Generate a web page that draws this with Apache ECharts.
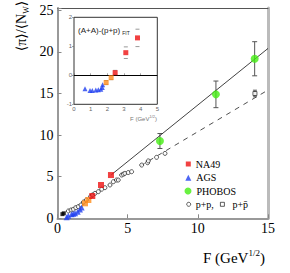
<!DOCTYPE html>
<html><head><meta charset="utf-8">
<script src="https://cdn.jsdelivr.net/npm/echarts@6/dist/echarts.min.js"></script>
<style>html,body{margin:0;padding:0;background:#fff}#c{width:290px;height:273px}</style>
</head><body><div id="c"></div>
<script>
// ---- main panel data ----
const na49X = [2.48, 3.10, 3.81];
const na49Y = [2.68, 4.00, 5.20];
const na49LowX = [1.96, 2.20];
const na49LowY = [1.80, 2.20];
const agsX = [0.65, 0.77, 1.00, 1.12, 1.25, 1.44, 1.60, 1.72];
const agsY = [0.12, 0.30, 0.50, 0.55, 0.62, 0.80, 1.05, 1.30];
const phobosX = [7.30, 11.29, 14.05];
const phobosY = [9.29, 14.90, 19.18];
const phobosErr = [0.90, 1.60, 2.05];
const ppX = [0.77, 0.96, 1.13, 1.30, 1.48, 1.67, 1.85, 2.05, 2.35, 2.50, 2.67, 2.91, 3.15, 3.38, 3.74, 3.98, 4.20, 4.33, 4.57, 4.69, 4.80, 5.04, 5.28, 6.00, 6.42, 6.47, 7.06, 7.66];
const ppY = [0.88, 1.00, 1.08, 1.28, 1.40, 1.60, 1.95, 2.20, 2.60, 2.80, 3.00, 3.20, 3.50, 3.68, 4.00, 4.40, 4.60, 4.60, 5.20, 5.30, 5.40, 5.50, 5.60, 6.40, 6.68, 6.90, 7.33, 7.80];
const ppbarX = [14.07];
const ppbarY = [15.00];
const ppbarErr = [0.40];
const lowX = [0.35, 0.45];
const lowY = [0.50, 0.60];
const fitAAX = [3.84, 15.0];
const fitAAY = [5.24, 20.42];
const fitPPX = [5.90, 15.0];
const fitPPY = [6.30, 15.42];
const xTicks = [0, 5, 10, 15];
const yTicks = [0, 5, 10, 15, 20, 25];
// ---- inset data ----
const insAgsX = [0.66, 0.96, 1.10, 1.31, 1.46, 1.61, 1.70, 1.72];
const insAgsY = [-0.46, -0.52, -0.52, -0.51, -0.50, -0.48, -0.42, -0.33];
const insLowX = [1.93, 2.23];
const insLowY = [-0.25, -0.08];
const insLowErr = [0.07, 0.07];
const insNa49X = [2.47, 3.11, 3.81];
const insNa49Y = [0.09, 0.78, 1.29];
const insNa49Err = [0.08, 0.20, 0.30];
const insXTicks = [0, 1, 2, 3, 4, 5];
const insYTicks = [-1, 0, 1, 2];

const zip = (a, b) => a.map((v, i) => [v, b[i]]);
const SERIF = '"Liberation Serif","DejaVu Serif",serif';
const SANS = '"Liberation Sans","DejaVu Sans",sans-serif';

function errSeries(name, xs, ys, es, xi, yi, color, cap, withLine, z) {
  return {
    name, type: 'custom', xAxisIndex: xi, yAxisIndex: yi, z: z, silent: true,
    data: xs.map((x, i) => [x, ys[i] - es[i], ys[i] + es[i]]),
    renderItem: (params, api) => {
      const lo = api.coord([api.value(0), api.value(1)]);
      const hi = api.coord([api.value(0), api.value(2)]);
      const st = { stroke: color, lineWidth: 1 };
      const ch = [
        { type: 'line', shape: { x1: lo[0] - cap, y1: lo[1], x2: lo[0] + cap, y2: lo[1] }, style: st },
        { type: 'line', shape: { x1: hi[0] - cap, y1: hi[1], x2: hi[0] + cap, y2: hi[1] }, style: st }
      ];
      if (withLine) ch.push({ type: 'line', shape: { x1: lo[0], y1: lo[1], x2: hi[0], y2: hi[1] }, style: st });
      return { type: 'group', children: ch };
    }
  };
}

const chart = echarts.init(document.getElementById('c'), null, { renderer: 'svg' });
const yMax = 25.28;
const legText = { fontFamily: SERIF, fontSize: 10, color: '#000', lineHeight: 10 };
const openStyle = { color: '#fff', borderColor: '#000', borderWidth: 0.8 };
chart.setOption({
  animation: false,
  backgroundColor: '#fff',
  grid: [
    { left: 57.5, right: 22, top: 8, bottom: 54.7 },
    { left: 74, right: 132.7, top: 17.3, bottom: 168.7, show: true, backgroundColor: '#fff', borderColor: '#333', borderWidth: 1, z: 3 }
  ],
  xAxis: [
    { gridIndex: 0, type: 'value', min: 0, max: 15, interval: 5,
      axisLine: { show: true, onZero: false, lineStyle: { color: '#999', width: 2 } },
      axisTick: { show: true, inside: true, length: 4, lineStyle: { color: '#888' } },
      axisLabel: { fontFamily: SERIF, fontSize: 14, color: '#000', margin: 3,
        formatter: v => xTicks.includes(v) ? String(v) : '' },
      splitLine: { show: false } },
    { gridIndex: 0, type: 'value', position: 'top', min: 0, max: 15,
      axisLine: { show: true, onZero: false, lineStyle: { color: '#555', width: 1 } },
      axisTick: { show: false }, axisLabel: { show: false }, splitLine: { show: false } },
    { gridIndex: 1, type: 'value', min: 0, max: 5, interval: 1,
      axisLine: { show: false }, 
      axisTick: { show: true, inside: true, length: 2, lineStyle: { color: '#666', width: 0.6 } },
      axisLabel: { fontFamily: SANS, fontSize: 6, color: '#666', margin: 2,
        formatter: v => insXTicks.includes(v) ? String(v) : '' },
      splitLine: { show: false }, z: 4 }
  ],
  yAxis: [
    { gridIndex: 0, type: 'value', min: 0, max: yMax, interval: 5,
      axisLine: { show: true, onZero: false, lineStyle: { color: '#999', width: 2 } },
      axisTick: { show: true, inside: true, length: 4, lineStyle: { color: '#888' } },
      axisLabel: { fontFamily: SERIF, fontSize: 14, color: '#000', margin: 4,
        formatter: v => yTicks.includes(v) ? String(v) : '' },
      splitLine: { show: false } },
    { gridIndex: 0, type: 'value', position: 'right', min: 0, max: yMax,
      axisLine: { show: true, onZero: false, lineStyle: { color: '#bbb', width: 3 } },
      axisTick: { show: false }, axisLabel: { show: false }, splitLine: { show: false } },
    { gridIndex: 1, type: 'value', min: -1, max: 2, interval: 1,
      axisLine: { show: false },
      axisTick: { show: true, inside: false, length: 2, lineStyle: { color: '#666', width: 0.6 } },
      axisLabel: { fontFamily: SANS, fontSize: 6, color: '#666', margin: 2,
        formatter: v => insYTicks.includes(v) ? String(v) : '' },
      splitLine: { show: false }, z: 4 }
  ],
  legend: [
    { left: 185.8, top: 159, padding: 0, itemWidth: 5, itemHeight: 5, data: ['NA49'], textStyle: legText },
    { left: 185.3, top: 172.7, padding: 0, itemWidth: 6, itemHeight: 6, data: ['AGS'], textStyle: legText },
    { left: 184.5, top: 186, padding: 0, itemWidth: 7, itemHeight: 7, data: ['PHOBOS'], textStyle: legText },
    { left: 186.3, top: 199.3, padding: 0, itemWidth: 4, itemHeight: 4,
      data: [{ name: 'p+p', icon: 'circle', itemStyle: openStyle }], textStyle: legText, formatter: () => 'p+p,' },
    { left: 220, top: 199.3, padding: 0, itemWidth: 4, itemHeight: 4,
      data: [{ name: 'p+p\u0304', icon: 'rect', itemStyle: openStyle }], textStyle: Object.assign({}, legText, { padding: [0, 0, 0, 3] }) }
  ],
  graphic: [
    { type: 'text', x: 21, y: 26, rotation: Math.PI / 2, z: 10,
      style: { text: '\u27E8\u03C0\u27E9/\u27E8N{s|W}\u27E9', fill: '#000', font: '14px ' + SERIF,
        align: 'center', verticalAlign: 'middle',
        rich: { s: { fontSize: 8, fontFamily: SERIF, verticalAlign: 'bottom' } }, lineHeight: 18 } },
    { type: 'text', x: 203, y: 258, z: 10,
      style: { text: 'F (GeV{p|1/2})', fill: '#000', font: '15px ' + SERIF,
        align: 'left', verticalAlign: 'middle', lineHeight: 20,
        rich: { p: { fontSize: 9, fontFamily: SERIF, verticalAlign: 'top' } } } },
    { type: 'text', x: 157, y: 119, z: 10,
      style: { text: 'F (GeV{p|1/2})', fill: '#777', font: '6px ' + SANS,
        align: 'right', verticalAlign: 'middle', lineHeight: 9,
        rich: { p: { fontSize: 4, fontFamily: SANS, verticalAlign: 'top' } } } },
    { type: 'text', x: 78, y: 30, z: 10,
      style: { text: '(A+A)-(p+p){s|FIT}', fill: '#222', font: '8px ' + SANS,
        align: 'left', verticalAlign: 'middle', lineHeight: 11,
        rich: { s: { fontSize: 5, fontFamily: SANS, verticalAlign: 'bottom', padding: [0, 0, 0, 2] } } } }
  ],
  series: [
    { name: 'fitAA', type: 'line', xAxisIndex: 0, yAxisIndex: 0, data: zip(fitAAX, fitAAY), symbol: 'none',
      lineStyle: { color: '#111', width: 0.8 }, z: 1, silent: true },
    { name: 'fitPP', type: 'line', xAxisIndex: 0, yAxisIndex: 0, data: zip(fitPPX, fitPPY), symbol: 'none',
      lineStyle: { color: '#222', width: 0.8, type: [5, 5] }, z: 1, silent: true },
    errSeries('phobosErr', phobosX, phobosY, phobosErr, 0, 0, '#555', 2.5, true, 1),
    errSeries('ppbarErr', ppbarX, ppbarY, ppbarErr, 0, 0, '#555', 2, true, 1),
    { name: 'p+p', type: 'scatter', xAxisIndex: 0, yAxisIndex: 0, data: zip(ppX, ppY), symbol: 'circle', symbolSize: 4,
      itemStyle: openStyle, z: 2 },
    { name: 'p+p\u0304', type: 'scatter', xAxisIndex: 0, yAxisIndex: 0, data: zip(ppbarX, ppbarY), symbol: 'rect', symbolSize: 4,
      itemStyle: openStyle, z: 2 },
    { name: 'low', type: 'scatter', xAxisIndex: 0, yAxisIndex: 0, data: zip(lowX, lowY), symbol: 'rect', symbolSize: 4,
      itemStyle: { color: '#000' }, z: 2 },
    { name: 'AGS', type: 'scatter', xAxisIndex: 0, yAxisIndex: 0, data: zip(agsX, agsY), symbol: 'triangle', symbolSize: 6,
      itemStyle: { color: '#2040f0' }, z: 3 },
    { name: 'NA49low', type: 'scatter', xAxisIndex: 0, yAxisIndex: 0, data: zip(na49LowX, na49LowY), symbol: 'rect', symbolSize: 6,
      itemStyle: { color: '#ff8c1a' }, z: 3 },
    { name: 'NA49', type: 'scatter', xAxisIndex: 0, yAxisIndex: 0, data: zip(na49X, na49Y), symbol: 'rect', symbolSize: 6,
      itemStyle: { color: '#ee1111' }, z: 3 },
    { name: 'PHOBOS', type: 'scatter', xAxisIndex: 0, yAxisIndex: 0, data: zip(phobosX, phobosY), symbol: 'circle', symbolSize: 8,
      itemStyle: { color: '#44ee11' }, z: 3 },
    // inset
    errSeries('insLowErr', insLowX, insLowY, insLowErr, 2, 2, '#999', 2, false, 4),
    errSeries('insNa49Err', insNa49X, insNa49Y, insNa49Err, 2, 2, '#999', 2, false, 4),
    { name: 'insAGS', type: 'scatter', xAxisIndex: 2, yAxisIndex: 2, data: zip(insAgsX, insAgsY), symbol: 'triangle', symbolSize: 5,
      itemStyle: { color: '#2040f0' }, z: 5,
      markLine: { silent: true, symbol: 'none', label: { show: false }, lineStyle: { color: '#000', width: 1, type: 'solid' },
        data: [{ yAxis: 0 }] } },
    { name: 'insLow', type: 'scatter', xAxisIndex: 2, yAxisIndex: 2, data: zip(insLowX, insLowY), symbol: 'rect', symbolSize: 5,
      itemStyle: { color: '#ff8c1a' }, z: 5 },
    { name: 'insNA49', type: 'scatter', xAxisIndex: 2, yAxisIndex: 2, data: zip(insNa49X, insNa49Y), symbol: 'rect', symbolSize: 5,
      itemStyle: { color: '#ee1111' }, z: 5 }
  ]
});
</script></body></html>
